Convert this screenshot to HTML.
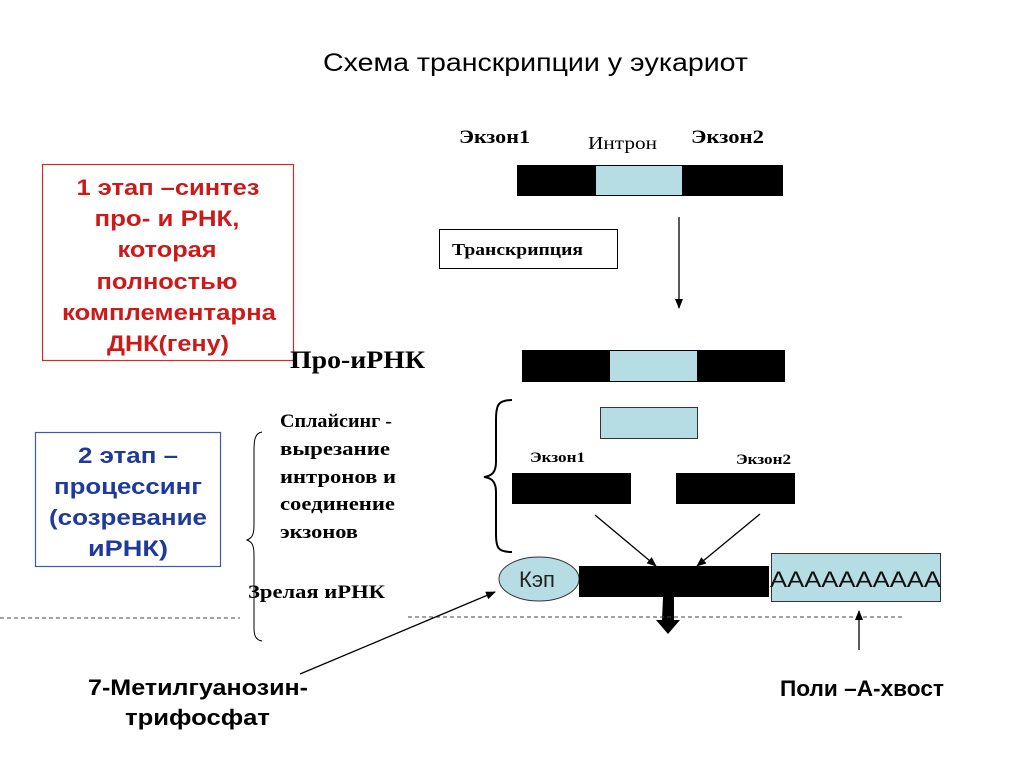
<!DOCTYPE html>
<html><head><meta charset="utf-8"><style>
html,body{margin:0;padding:0;background:#fff;}
svg{display:block;}
.s{font-family:"Liberation Sans",sans-serif;}
.r{font-family:"Liberation Serif",serif;font-weight:bold;}
</style></head><body>
<svg width="1024" height="767" viewBox="0 0 1024 767" xmlns="http://www.w3.org/2000/svg">
<defs>
<marker id="a" markerWidth="10" markerHeight="8" refX="9" refY="4" orient="auto" markerUnits="userSpaceOnUse"><path d="M0,0 L10,4 L0,8 Z" fill="#000"/></marker>
</defs>
<text x="323" y="71" class="s" font-size="25" textLength="425" lengthAdjust="spacingAndGlyphs">Схема транскрипции у эукариот</text>

<g class="r">
<text x="459" y="143" font-size="19" textLength="71" lengthAdjust="spacingAndGlyphs">Экзон1</text>
<text x="588" y="149" font-size="18" font-weight="normal" textLength="69" lengthAdjust="spacingAndGlyphs">Интрон</text>
<text x="691" y="143" font-size="19" textLength="73" lengthAdjust="spacingAndGlyphs">Экзон2</text>
</g>
<rect x="517" y="165" width="266" height="31" fill="#000"/>
<rect x="596" y="166" width="86" height="29" fill="#b7dde4"/>

<rect x="439.5" y="229.5" width="178" height="39" fill="#fff" stroke="#000" stroke-width="1"/>
<text x="452" y="255" class="r" font-size="17" textLength="131" lengthAdjust="spacingAndGlyphs">Транскрипция</text>
<line x1="679" y1="217" x2="679" y2="308" stroke="#000" stroke-width="1.3" marker-end="url(#a)"/>

<rect x="42.5" y="164.5" width="251" height="196" fill="none" stroke="#d42a2a" stroke-width="1.2"/>
<g class="s" font-size="22" font-weight="bold" fill="#cc1a1a" text-anchor="middle">
<text x="168" y="195" textLength="183" lengthAdjust="spacingAndGlyphs">1 этап –синтез</text>
<text x="167" y="226" textLength="145" lengthAdjust="spacingAndGlyphs">про- и РНК,</text>
<text x="167" y="257" textLength="99" lengthAdjust="spacingAndGlyphs">которая</text>
<text x="167" y="289" textLength="141" lengthAdjust="spacingAndGlyphs">полностью</text>
<text x="169" y="320" textLength="214" lengthAdjust="spacingAndGlyphs">комплементарна</text>
<text x="168" y="351" textLength="122" lengthAdjust="spacingAndGlyphs">ДНК(гену)</text>
</g>

<text x="290" y="368" class="r" font-size="25" textLength="135" lengthAdjust="spacingAndGlyphs">Про-иРНК</text>
<rect x="522" y="350" width="263" height="32" fill="#000"/>
<rect x="610" y="351" width="87" height="30" fill="#b7dde4"/>

<path d="M512,400 C498,400 496,405 496,420 L496,462 C496,472 492,476 484,477 C492,478 496,482 496,492 L496,534 C496,548 498,552 512,552" fill="none" stroke="#000" stroke-width="2"/>
<rect x="600.5" y="407.5" width="97" height="31" fill="#b7dde4" stroke="#333" stroke-width="1"/>
<text x="530" y="462" class="r" font-size="15" textLength="55" lengthAdjust="spacingAndGlyphs">Экзон1</text>
<text x="736" y="464" class="r" font-size="15" textLength="55" lengthAdjust="spacingAndGlyphs">Экзон2</text>
<rect x="512" y="473" width="119" height="31" fill="#000"/>
<rect x="676" y="473" width="119" height="31" fill="#000"/>
<line x1="595" y1="515" x2="656" y2="566" stroke="#000" stroke-width="1.3" marker-end="url(#a)"/>
<line x1="760" y1="514" x2="697" y2="566" stroke="#000" stroke-width="1.3" marker-end="url(#a)"/>

<ellipse cx="539" cy="579" rx="40" ry="22" fill="#b7dde4" stroke="#333" stroke-width="1"/>
<text x="537" y="587" class="s" font-size="22" text-anchor="middle" fill="#222">Кэп</text>
<rect x="579" y="566" width="190" height="31" fill="#000"/>
<rect x="771.5" y="553.5" width="169" height="48" fill="#b7dde4" stroke="#333" stroke-width="1"/>
<text x="770" y="587" class="s" font-size="22" textLength="171" lengthAdjust="spacingAndGlyphs" fill="#111">AAAAAAAAAA</text>
<path d="M663,597 L674,597 L674,620 L680,620 L668,634 L656,620 L662,620 Z" fill="#000"/>

<line x1="0" y1="618" x2="240" y2="618" stroke="#444" stroke-width="1" stroke-dasharray="4,3"/>
<line x1="408" y1="617" x2="905" y2="617" stroke="#444" stroke-width="1" stroke-dasharray="4,3"/>

<rect x="35.5" y="432.5" width="185" height="134" fill="none" stroke="#3a5cb0" stroke-width="1.2"/>
<g class="s" font-size="22" font-weight="bold" fill="#1e3a9a" text-anchor="middle">
<text x="128" y="463" textLength="100" lengthAdjust="spacingAndGlyphs">2 этап –</text>
<text x="128" y="494" textLength="148" lengthAdjust="spacingAndGlyphs">процессинг</text>
<text x="128" y="525" textLength="158" lengthAdjust="spacingAndGlyphs">(созревание</text>
<text x="128" y="556" textLength="80" lengthAdjust="spacingAndGlyphs">иРНК)</text>
</g>

<path d="M262,432 C255,433 254,440 254,450 L254,525 C254,535 252,538 247,540 C252,542 254,545 254,555 L254,628 C254,636 256,640 262,641" fill="none" stroke="#000" stroke-width="1"/>
<g class="r" font-size="19">
<text x="280" y="427" textLength="112" lengthAdjust="spacingAndGlyphs">Сплайсинг -</text>
<text x="280" y="455" textLength="110" lengthAdjust="spacingAndGlyphs">вырезание</text>
<text x="280" y="483" textLength="116" lengthAdjust="spacingAndGlyphs">интронов и</text>
<text x="280" y="510" textLength="115" lengthAdjust="spacingAndGlyphs">соединение</text>
<text x="280" y="538" textLength="78" lengthAdjust="spacingAndGlyphs">экзонов</text>
<text x="248" y="598" textLength="137" lengthAdjust="spacingAndGlyphs">Зрелая иРНК</text>
</g>
<line x1="300" y1="674" x2="495" y2="592" stroke="#000" stroke-width="1.3" marker-end="url(#a)"/>
<g class="s" font-size="22" font-weight="bold">
<text x="88" y="695" textLength="220" lengthAdjust="spacingAndGlyphs">7-Метилгуанозин-</text>
<text x="125" y="725" textLength="145" lengthAdjust="spacingAndGlyphs">трифосфат</text>
<text x="780" y="696" textLength="164" lengthAdjust="spacingAndGlyphs">Поли –А-хвост</text>
</g>
<line x1="859" y1="650" x2="859" y2="611" stroke="#000" stroke-width="1.3" marker-end="url(#a)"/>
</svg>
</body></html>
